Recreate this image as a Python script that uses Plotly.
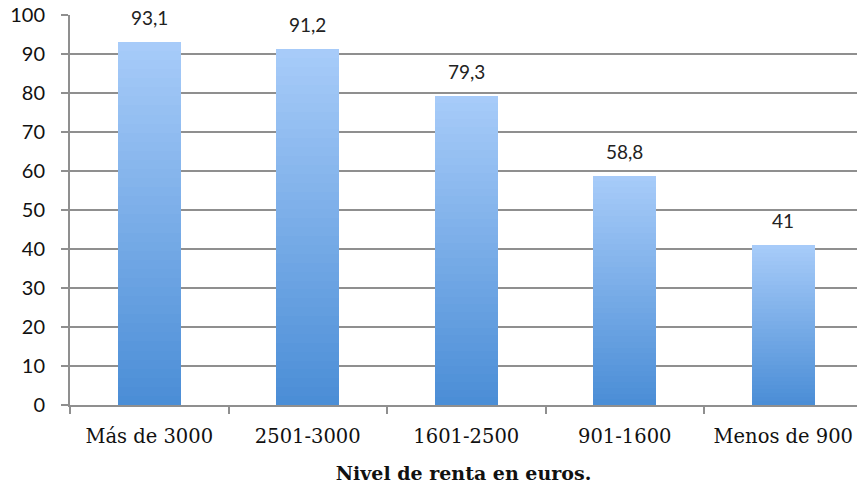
import plotly.graph_objects as go

categories = ["Más de 3000", "2501-3000", "1601-2500", "901-1600", "Menos de 900"]
values = [93.1, 91.2, 79.3, 58.8, 41]
value_labels = ["93,1", "91,2", "79,3", "58,8", "41"]
y_ticks = list(range(0, 101, 10))

N_SEG = 40
bottom_rgb = (74, 141, 214)
top_rgb = (168, 204, 249)

def mix(t):
    return "rgb(%d,%d,%d)" % tuple(round(b + (c - b) * t) for b, c in zip(bottom_rgb, top_rgb))

fig = go.Figure()
for k in range(N_SEG):
    fig.add_trace(go.Bar(
        x=categories,
        y=[v / N_SEG for v in values],
        marker=dict(color=mix((k + 0.5) / N_SEG), line=dict(width=0)),
        hoverinfo="skip",
        showlegend=False,
    ))

for c, v, t in zip(categories, values, value_labels):
    fig.add_annotation(
        x=c, y=v, xref="x", yref="y", text=t, showarrow=False,
        yanchor="bottom", yshift=11,
        font=dict(family="Lato, Open Sans, sans-serif", size=19, color="#222222"),
    )

grid_col = "#8f8f8f"
fig.update_layout(
    width=857, height=489,
    margin=dict(l=70, r=0, t=15, b=84),
    paper_bgcolor="white", plot_bgcolor="white",
    barmode="stack", bargap=0.6,
    xaxis=dict(
        range=[-0.5, 4.465],
        showline=True, linecolor=grid_col, linewidth=2,
        ticks="outside", tickson="boundaries", ticklen=7, tickwidth=2, tickcolor=grid_col,
        tickfont=dict(family="DejaVu Serif, serif", size=19.5, color="#111111"),
        ticklabelstandoff=13,
        showgrid=False,
        title=dict(text="<b>Nivel de renta en euros.</b>",
                   font=dict(family="DejaVu Serif, serif", size=19, color="#111111"),
                   standoff=19),
    ),
    yaxis=dict(
        range=[0, 100], tickvals=y_ticks,
        showline=True, linecolor=grid_col, linewidth=2,
        ticks="outside", ticklen=7, tickwidth=2, tickcolor=grid_col,
        showgrid=True, gridcolor=grid_col, gridwidth=2,
        zeroline=False,
        tickfont=dict(family="Lato, Open Sans, sans-serif", size=20, color="#111111"),
        ticklabelstandoff=12,
    ),
)

fig.write_html("out.html")
